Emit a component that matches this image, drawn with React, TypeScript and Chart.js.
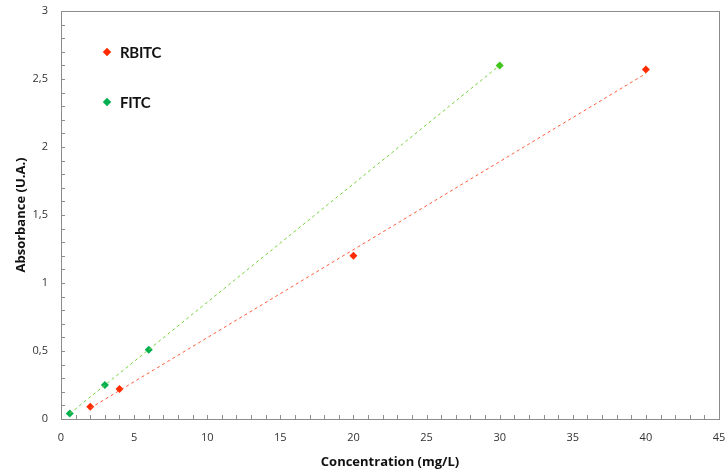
import React, { useEffect, useRef } from "react";
import { Chart, registerables } from "chart.js";

Chart.register(...registerables);

const rbitcX = [2, 4, 20, 40];
const rbitcY = [0.09, 0.22, 1.2, 2.57];
const fitcX = [0.6, 3, 6, 30];
const fitcY = [0.04, 0.25, 0.51, 2.6];
const rbitcTrendX = [2, 40];
const rbitcTrendY = [0.08, 2.54];
const fitcTrendX = [0.6, 30];
const fitcTrendY = [0.04, 2.6];
const fitcPointColors = ["#00b050", "#00b050", "#00b050", "#3ec41a"];
const seriesNames = ["RBITC", "FITC"];
const xTitle = "Concentration (mg/L)";
const yTitle = "Absorbance (U.A.)";

const pts = (xs: number[], ys: number[]) => xs.map((x, i) => ({ x, y: ys[i] }));

const fmt = (v: number) => {
  const r = Math.round(v * 10) / 10;
  return String(r).replace(".", ",");
};

const framePlugin = {
  id: "frameTicks",
  afterDraw(chart: any) {
    const { ctx, chartArea } = chart;
    const { left, right, top, bottom } = chartArea;
    ctx.save();
    ctx.strokeStyle = "#8c8c8c";
    ctx.lineWidth = 1;
    ctx.beginPath();
    const xs = chart.scales.x;
    xs.ticks.forEach((t: any) => {
      const px = Math.round(xs.getPixelForValue(t.value)) + 0.5;
      ctx.moveTo(px, bottom);
      ctx.lineTo(px, bottom - 4);
    });
    const ys = chart.scales.y;
    ys.ticks.forEach((t: any) => {
      const py = Math.round(ys.getPixelForValue(t.value)) + 0.5;
      ctx.moveTo(left, py);
      ctx.lineTo(left + 4, py);
    });
    ctx.stroke();
    ctx.strokeRect(Math.round(left) + 0.5, Math.round(top) + 0.5, Math.round(right - left), Math.round(bottom - top));
    ctx.restore();
  },
};

export default function App() {
  const ref = useRef<HTMLCanvasElement | null>(null);
  useEffect(() => {
    const chart = new Chart(ref.current as HTMLCanvasElement, {
      type: "scatter",
      data: {
        datasets: [
          {
            label: seriesNames[0] + " trend",
            data: pts(rbitcTrendX, rbitcTrendY),
            showLine: true,
            borderColor: "#ff5b3a",
            borderWidth: 1,
            borderDash: [3, 3],
            pointRadius: 0,
          },
          {
            label: seriesNames[1] + " trend",
            data: pts(fitcTrendX, fitcTrendY),
            showLine: true,
            borderColor: "#74d13c",
            borderWidth: 1,
            borderDash: [3, 3],
            pointRadius: 0,
          },
          {
            label: seriesNames[0],
            data: pts(rbitcX, rbitcY),
            pointStyle: "rectRot",
            pointRadius: 4,
            backgroundColor: "#ff2a00",
            borderColor: "#ff2a00",
            borderWidth: 0,
          },
          {
            label: seriesNames[1],
            data: pts(fitcX, fitcY),
            pointStyle: "rectRot",
            pointRadius: 4,
            backgroundColor: fitcPointColors,
            borderColor: fitcPointColors,
            borderWidth: 0,
          },
        ],
      },
      options: {
        animation: false,
        responsive: false,
        layout: { padding: { top: 11, right: 6, left: 0, bottom: 0 } },
        plugins: { legend: { display: false }, tooltip: { enabled: false } },
        scales: {
          x: {
            type: "linear",
            min: 0,
            max: 45,
            afterFit: (s: any) => { s.height = 51; s.paddingRight = 0; s.paddingLeft = 0; },
            grid: { display: false, drawTicks: false },
            border: { display: false },
            ticks: {
              stepSize: 1,
              autoSkip: false,
              maxTicksLimit: 100,
              maxRotation: 0,
              padding: 12,
              color: "#333",
              font: { family: "Open Sans", size: 11 },
              callback: (v: any) => (Math.abs(v % 5) < 1e-6 ? String(v) : ""),
            },
            title: {
              display: true,
              text: xTitle,
              color: "#111",
              font: { family: "Open Sans", size: 13, weight: "bold" },
              padding: { top: 6, bottom: 0 },
            },
          },
          y: {
            type: "linear",
            min: 0,
            max: 3,
            afterFit: (s: any) => { s.width = 61; s.paddingTop = 0; s.paddingBottom = 0; },
            grid: { display: false, drawTicks: false },
            border: { display: false },
            ticks: {
              stepSize: 0.1,
              autoSkip: false,
              maxTicksLimit: 100,
              padding: 13,
              color: "#333",
              font: { family: "Open Sans", size: 11 },
              callback: (v: any) => {
                const d = v * 2;
                return Math.abs(d - Math.round(d)) < 1e-6 ? fmt(v) : "";
              },
            },
            title: {
              display: true,
              text: yTitle,
              color: "#111",
              font: { family: "Open Sans", size: 13, weight: "bold" },
              padding: { top: 13, bottom: 0 },
            },
          },
        },
      },
      plugins: [framePlugin],
    } as any);
    return () => chart.destroy();
  }, []);

  const legendItem = (top: number, color: string, text: string) => (
    <div style={{ position: "absolute", left: 104, top, display: "flex", alignItems: "center" }}>
      <span style={{ display: "inline-block", width: 6, height: 6, background: color, transform: "rotate(45deg)" }} />
      <span style={{ marginLeft: 10, fontFamily: "Lato", fontWeight: "bold", fontSize: 15, color: "#111", letterSpacing: -0.3 }}>{text}</span>
    </div>
  );

  return (
    <div style={{ position: "fixed", left: 0, top: 0, width: 725, height: 470, background: "#fff" }}>
      <canvas ref={ref} width={725} height={470} style={{ display: "block" }} />
      {legendItem(43, "#ff2a00", seriesNames[0])}
      {legendItem(93, "#00b050", seriesNames[1])}
    </div>
  );
}
